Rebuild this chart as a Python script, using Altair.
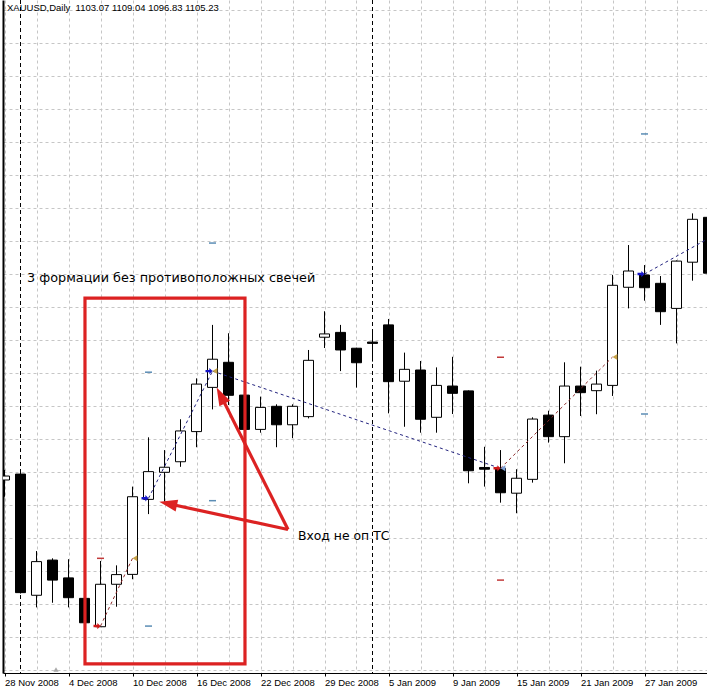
import json
import math
import altair as alt
import pandas as pd

# ---------------- data ----------------
caption = "XAUUSD,Daily\u00a0 1103.07 1109.04 1096.83 1105.23"

dates = ["28 Nov 2008", "1 Dec 2008", "2 Dec 2008", "3 Dec 2008", "4 Dec 2008", "5 Dec 2008",
         "8 Dec 2008", "9 Dec 2008", "10 Dec 2008", "11 Dec 2008", "12 Dec 2008", "15 Dec 2008",
         "16 Dec 2008", "17 Dec 2008", "18 Dec 2008", "19 Dec 2008", "22 Dec 2008", "23 Dec 2008",
         "24 Dec 2008", "26 Dec 2008", "29 Dec 2008", "30 Dec 2008", "31 Dec 2008", "2 Jan 2009",
         "5 Jan 2009", "6 Jan 2009", "7 Jan 2009", "8 Jan 2009", "9 Jan 2009", "12 Jan 2009",
         "13 Jan 2009", "14 Jan 2009", "15 Jan 2009", "16 Jan 2009", "19 Jan 2009", "20 Jan 2009",
         "21 Jan 2009", "22 Jan 2009", "23 Jan 2009", "26 Jan 2009", "27 Jan 2009", "28 Jan 2009",
         "29 Jan 2009", "30 Jan 2009", "2 Feb 2009"]

opens = [806.5, 809.2, 754.1, 770.1, 762.0, 752.7, 739.8, 759.1, 763.6, 797.7, 810.0, 814.8,
         828.5, 848.6, 860.0, 845.1, 829.5, 840.0, 831.6, 835.3, 871.4, 873.6, 866.4, 869.2,
         877.0, 851.4, 856.5, 835.0, 849.2, 847.0, 812.2, 811.8, 800.5, 806.8, 836.0, 826.2,
         849.2, 847.1, 849.5, 894.1, 899.7, 895.9, 884.5, 905.5, 925.9]
highs = [811.1, 809.7, 774.2, 770.9, 770.5, 753.3, 769.7, 767.7, 803.5, 825.9, 820.1, 834.1,
         852.7, 877.0, 873.2, 845.6, 844.4, 840.9, 840.9, 865.6, 883.2, 877.0, 866.6, 875.0,
         879.7, 864.4, 860.6, 857.7, 862.5, 847.2, 821.6, 820.1, 811.4, 835.0, 838.0, 860.0,
         858.0, 856.2, 899.7, 913.3, 904.2, 899.2, 906.3, 927.7, 927.9]
lows = [798.9, 754.9, 748.6, 750.7, 748.6, 741.3, 739.7, 748.9, 761.4, 791.0, 796.6, 812.5,
        821.4, 838.6, 840.6, 829.2, 828.0, 821.4, 825.5, 834.5, 866.5, 856.0, 848.5, 860.3,
        836.8, 830.7, 828.0, 828.0, 836.5, 805.0, 803.5, 796.2, 791.4, 805.3, 823.5, 814.1,
        835.6, 836.4, 844.7, 884.5, 888.0, 877.0, 868.6, 897.1, 896.5]
closes = [808.3, 755.3, 769.4, 761.0, 753.0, 741.6, 759.1, 763.5, 798.9, 810.3, 812.3, 828.8,
          850.1, 861.4, 845.0, 829.5, 839.5, 831.6, 840.0, 860.9, 872.9, 865.6, 859.8, 868.6,
          851.2, 856.8, 834.1, 849.5, 845.9, 810.7, 811.4, 800.7, 807.3, 834.2, 826.2, 849.2,
          846.2, 850.1, 895.0, 901.5, 893.9, 883.0, 906.0, 925.0, 900.5]

# trades drawn by the terminal (bar index, price)
trade_side = ["sell", "buy", "buy", "sell", "buy"]
entry_bar = [6, 9, 13, 31, 40]
entry_price = [740.1, 798.2, 856.0, 811.8, 900.1]
exit_bar = [8, 13, 31, 38, 46]
exit_price = [770.9, 856.0, 811.8, 862.4, 924.4]
exit_kind = ["tp", "tp", "sl", "tp", "tp"]

# stop / target level dashes
level_bar = [6, 9, 9, 13, 13, 31, 31, 40, 40]
level_price = [770.9, 740.1, 855.5, 797.1, 914.2, 862.3, 761.0, 836.5, 963.8]
level_side = ["sell", "buy", "buy", "buy", "buy", "sell", "sell", "buy", "buy"]

# hand-drawn annotations (bar index, price)
box_bars = [5.03, 15.03]
box_prices = [722.9, 889.2]
arrow_tail_bar = 17.72
arrow_tail_price = 784.0
arrow_tip_bar = [9.675, 13.26]
arrow_tip_price = [796.6, 848.6]
note_text = ["3 формации без противоположных свечей", "Вход не оп ТС"]
note_bar = [1.41, 18.34]
note_price = [898.3, 781.0]
note_size = [12.8, 12.4]

grid_prices = [720 + 15 * k for k in range(21)]

# ---------------- layout ----------------
W, H = 704, 673
X0 = -1.5 / 16
X1 = X0 + 44
Y0, Y1 = 718.773, 1024.682
PX_X = W / (X1 - X0)
PX_Y = H / (Y1 - Y0)

RED = "#dc2222"
BUY = "#22227e"
SELL = "#8c2a2a"
LVL_BUY = "#5b8db5"
LVL_SELL = "#c23a3a"

xs = alt.Scale(domain=[X0, X1], nice=False, zero=False)
ys = alt.Scale(domain=[Y0, Y1], nice=False, zero=False)

candles = pd.DataFrame({"i": range(len(dates)), "date": dates, "open": opens,
                        "high": highs, "low": lows, "close": closes})
months = [d.split()[1] for d in dates]
sep = pd.DataFrame({"i": [k for k in range(1, len(dates)) if months[k] != months[k - 1]]})

label_expr = ("datum.value % 4 === 0 ? " + json.dumps(dates, ensure_ascii=False)
              + "[datum.value] : ''")

x_axis = alt.Axis(values=list(range(0, 44, 2)), grid=True, gridDash=[3, 3], gridColor="#c6c6c6",
                  gridWidth=1, domainColor="black", domainWidth=1, tickColor="black",
                  tickSize=3, tickOpacity={"condition": {"test": "datum.value % 4 === 0", "value": 1}, "value": 0},
                  labelExpr=label_expr, labelAlign="left", labelFlush=False, labelOverlap=False,
                  labelFont="Liberation Sans", labelFontSize=9.5, labelColor="black",
                  labelPadding=1.5, title=None)
y_axis = alt.Axis(values=grid_prices, grid=True, gridDash=[3, 3], gridColor="#c6c6c6", gridWidth=1,
                  domainColor="black", domainWidth=2, ticks=False, labels=False, title=None)


def X(field):
    return alt.X(field, scale=xs, axis=x_axis)


def Y(field):
    return alt.Y(field, scale=ys, axis=y_axis)


wicks = alt.Chart(candles).mark_rule(color="black", strokeWidth=1, clip=True).encode(
    x=X("i:Q"), y=Y("low:Q"), y2="high:Q",
)

bodies = alt.Chart(candles).transform_calculate(
    xl="datum.i - 5/16", xr="datum.i + 5/16"
).mark_rect(stroke="black", strokeWidth=1, clip=True).encode(
    x=X("xl:Q"), x2="xr:Q", y=Y("open:Q"), y2="close:Q",
    fill=alt.condition("datum.close > datum.open", alt.value("white"), alt.value("black")),
)

separators = alt.Chart(sep).mark_rule(color="black", strokeWidth=1, strokeDash=[4, 3]).encode(
    x=X("i:Q")
)

trades = pd.DataFrame({"side": trade_side, "eb": entry_bar, "ep": entry_price,
                       "xb": exit_bar, "xp": exit_price, "kind": exit_kind})

trade_lines = alt.Chart(trades).mark_rule(strokeWidth=1, strokeDash=[3, 3], clip=True).encode(
    x=X("eb:Q"), x2="xb:Q", y=Y("ep:Q"), y2="xp:Q",
    color=alt.condition("datum.side === 'buy'", alt.value(BUY), alt.value(SELL)),
)

ENTRY_PATH = "M0,0L-0.9,-0.9L-0.9,-0.35L-2,-0.35L-2,0.35L-0.9,0.35L-0.9,0.9Z"
EXIT_PATH = "M0,0L1.6,-1L1.6,1Z"

entry_marks = alt.Chart(trades).mark_point(shape=ENTRY_PATH, size=49, filled=True, opacity=1,
                                           clip=True).encode(
    x=X("eb:Q"), y=Y("ep:Q"),
    color=alt.condition("datum.side === 'buy'", alt.value("#1414c8"), alt.value("#d01818")),
)
exit_marks = alt.Chart(trades).mark_point(shape=EXIT_PATH, size=36, filled=True, opacity=1,
                                          clip=True).encode(
    x=X("xb:Q"), y=Y("xp:Q"),
    color=alt.condition("datum.kind === 'sl'", alt.value("#7d9fd4"), alt.value("#c8a44a")),
)

levels = pd.DataFrame({"b": level_bar, "p": level_price, "side": level_side})
level_marks = alt.Chart(levels).mark_tick(orient="horizontal", size=7, thickness=1.5,
                                          opacity=1, clip=True).encode(
    x=X("b:Q"), y=Y("p:Q"),
    color=alt.condition("datum.side === 'buy'", alt.value(LVL_BUY), alt.value(LVL_SELL)),
)

box = alt.Chart(pd.DataFrame({"b0": [box_bars[0]], "b1": [box_bars[1]],
                              "p0": [box_prices[0]], "p1": [box_prices[1]]})).mark_rect(
    fillOpacity=0, stroke=RED, strokeWidth=3.2).encode(
    x=X("b0:Q"), x2="b1:Q", y=Y("p0:Q"), y2="p1:Q",
)

HEAD = 18
arrow_rows = []
for tb, tp in zip(arrow_tip_bar, arrow_tip_price):
    dx = (tb - arrow_tail_bar) * PX_X
    dy = -(tp - arrow_tail_price) * PX_Y
    length = math.hypot(dx, dy)
    back = 0.6 * HEAD / length
    arrow_rows.append({
        "tb0": arrow_tail_bar, "tp0": arrow_tail_price,
        "sb": tb - (tb - arrow_tail_bar) * back, "sp": tp - (tp - arrow_tail_price) * back,
        "hb": tb, "hp": tp,
        "ang": math.degrees(math.atan2(dx, -dy)) % 360,
    })
arrows = pd.DataFrame(arrow_rows)

shafts = alt.Chart(arrows).mark_rule(color=RED, strokeWidth=3.2).encode(
    x=X("tb0:Q"), x2="sb:Q", y=Y("tp0:Q"), y2="sp:Q",
)
heads = alt.Chart(arrows).mark_point(shape="M0,0L0.6,1.8L-0.6,1.8Z", size=400, filled=True,
                                     opacity=1, color=RED).encode(
    x=X("hb:Q"), y=Y("hp:Q"), angle=alt.Angle("ang:Q", scale=None),
)

notes = alt.Chart(pd.DataFrame({"t": note_text, "b": note_bar, "p": note_price,
                                "fs": note_size})).mark_text(
    align="left", baseline="middle", font="DejaVu Sans", color="black").encode(
    x=X("b:Q"), y=Y("p:Q"), text="t:N", size=alt.Size("fs:Q", scale=None, legend=None),
)

title = alt.Chart(alt.Data(values=[{"t": caption}])).mark_text(
    align="left", baseline="alphabetic", font="Liberation Sans", fontSize=9.5, color="black").encode(
    x=alt.value(4), y=alt.value(10.5), text="t:N")

shift_marker = alt.Chart(alt.Data(values=[{}])).mark_point(
    shape="triangle-up", size=28, filled=True, opacity=1, color="#a9a9a9").encode(
    x=alt.value(53), y=alt.value(669.5))

chart = alt.layer(
    wicks, separators, bodies, trade_lines, level_marks, entry_marks, exit_marks,
    box, shafts, heads, notes, title, shift_marker
).properties(
    width=W, height=H,
    padding={"left": 3, "top": 0, "right": 0, "bottom": 20},
    autosize="none", background="white",
).configure_view(stroke=None)

chart.save("out.html", embed_options={"renderer": "svg", "actions": False})
